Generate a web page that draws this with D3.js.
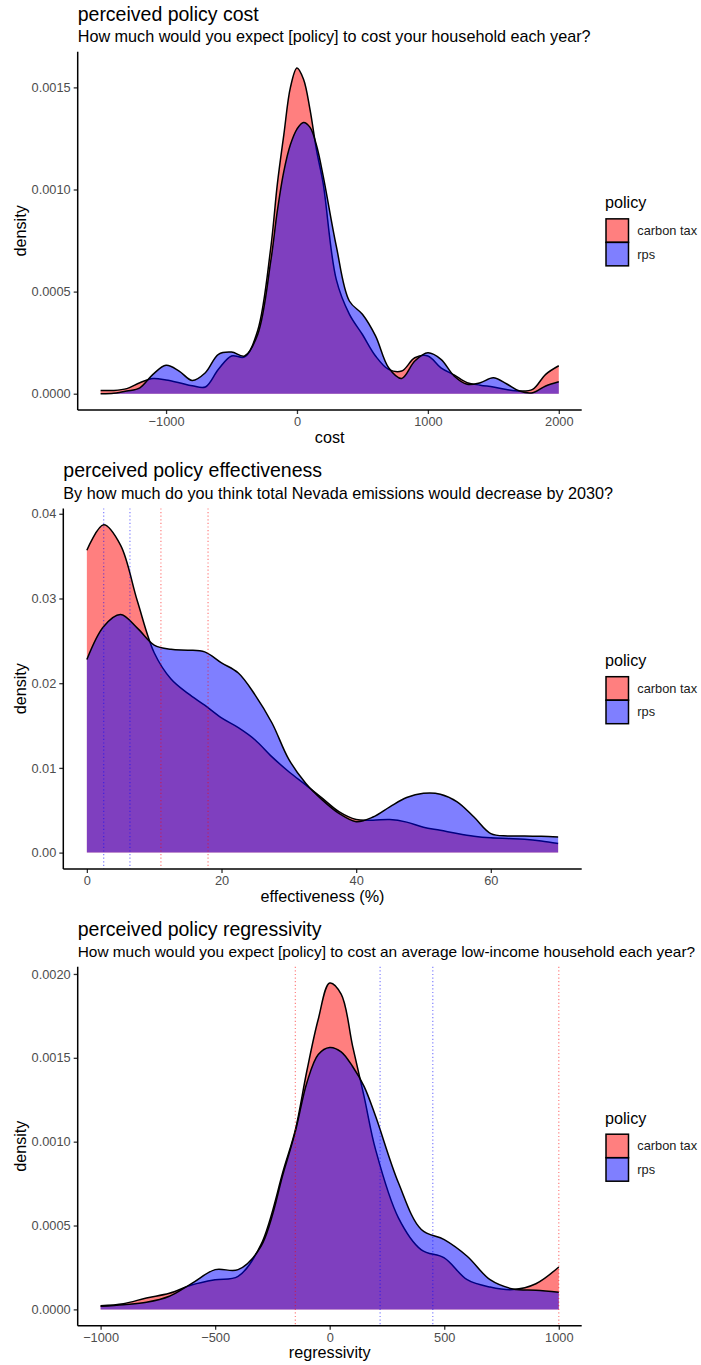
<!DOCTYPE html>
<html><head><meta charset="utf-8">
<script src="https://cdn.jsdelivr.net/npm/d3@7"></script>
<style>body{margin:0;background:#fff} svg{display:block}</style>
</head><body>
<svg id="chart" width="701" height="1365"></svg>
<script>
// ---------- DATA ----------
const policies = ["carbon tax", "rps"];
const policyColors = ["red", "blue"];

// Panel 1: perceived policy cost
const costX = [-1500,-1400,-1300,-1200,-1100,-1000,-900,-800,-700,-600,-500,-400,-300,-200,-150,-100,-50,0,50,100,150,200,300,400,500,600,700,800,900,1000,1100,1200,1300,1400,1500,1600,1700,1800,1900,2000];
const costCarbonTax = [0.000016,0.000016,0.000025,0.000054,0.000074,0.000067,0.000054,0.000039,0.000033,0.000120,0.000185,0.000180,0.000310,0.000716,0.001026,0.001270,0.001500,0.001595,0.001540,0.001390,0.001190,0.001030,0.000560,0.000390,0.000290,0.000185,0.000119,0.000111,0.000176,0.000185,0.000127,0.000092,0.000054,0.000042,0.000033,0.000021,0.000013,0.000021,0.000095,0.000137];
const costRps = [0.000000,0.000002,0.000013,0.000029,0.000095,0.000139,0.000111,0.000065,0.000103,0.000193,0.000204,0.000185,0.000290,0.000650,0.000895,0.001090,0.001220,0.001296,0.001328,0.001304,0.001214,0.001067,0.000724,0.000454,0.000389,0.000283,0.000127,0.000075,0.000160,0.000200,0.000168,0.000087,0.000046,0.000054,0.000078,0.000049,0.000013,0.000005,0.000038,0.000059];
const costXTicks = [-1000, 0, 1000, 2000];
const costYTicks = [0, 0.0005, 0.0010, 0.0015];

// Panel 2: perceived policy effectiveness
const effX = [0,2.5,5,7.5,10,12.5,15,17.5,20,22.5,25,27.5,30,32.5,35,37.5,40,42.5,45,47.5,50,52.5,55,57.5,60,62.5,65,67.5,70];
const effCarbonTax = [0.0357,0.0387,0.0363,0.0297,0.0236,0.0205,0.0188,0.0174,0.0159,0.01475,0.0133,0.0113,0.00955,0.0080,0.0064,0.0048,0.0039,0.00383,0.0039,0.0036,0.0030,0.00264,0.00225,0.00193,0.00174,0.00166,0.00158,0.00138,0.00107];
const effRps = [0.0228,0.0267,0.0281,0.0265,0.0245,0.0240,0.0239,0.0237,0.0224,0.0212,0.0186,0.0153,0.0110,0.0082,0.0062,0.0046,0.00365,0.0042,0.0054,0.0065,0.0070,0.0069,0.0060,0.0042,0.00225,0.00197,0.00197,0.00193,0.00185];
const effXTicks = [0, 20, 40, 60];
const effYTicks = [0, 0.01, 0.02, 0.03, 0.04];
const effVlineCarbonTax = [11, 18];
const effVlineRps = [2.5, 6.4];

// Panel 3: perceived policy regressivity
const regX = [-1000,-900,-800,-700,-600,-500,-400,-300,-200,-150,-100,-50,0,50,100,150,200,300,400,500,600,700,800,900,1000];
const regCarbonTax = [0.000022,0.000034,0.000068,0.000096,0.000147,0.000177,0.000197,0.000386,0.000840,0.001070,0.001420,0.001730,0.001946,0.001880,0.001570,0.001270,0.000954,0.000546,0.000355,0.000307,0.000177,0.000133,0.000118,0.000153,0.000253];
const regRps = [0.000018,0.000028,0.000042,0.000078,0.000157,0.000237,0.000237,0.000376,0.000825,0.001060,0.001350,0.001520,0.001562,0.001536,0.001448,0.001330,0.001153,0.000755,0.000476,0.000416,0.000317,0.000177,0.000122,0.000114,0.000102];
const regXTicks = [-1000, -500, 0, 500, 1000];
const regYTicks = [0, 0.0005, 0.0010, 0.0015, 0.0020];
const regVlineCarbonTax = [-150, 1000];
const regVlineRps = [220, 450];

// ---------- LAYOUT ----------
const FONT = "'Liberation Sans', Arial, sans-serif";
const panels = [
  {title:"perceived policy cost", subtitle:"How much would you expect [policy] to cost your household each year?",
   xlab:"cost", x:costX, series:[costCarbonTax, costRps], xticks:costXTicks, yticks:costYTicks, yfmt:".4f",
   vlines:null, left:77.7, top:51.7, bottom:410},
  {title:"perceived policy effectiveness", subtitle:"By how much do you think total Nevada emissions would decrease by 2030?",
   xlab:"effectiveness (%)", x:effX, series:[effCarbonTax, effRps], xticks:effXTicks, yticks:effYTicks, yfmt:".2f",
   vlines:[effVlineCarbonTax, effVlineRps], left:63.3, top:508.4, bottom:869},
  {title:"perceived policy regressivity", subtitle:"How much would you expect [policy] to cost an average low-income household each year?",
   xlab:"regressivity", x:regX, series:[regCarbonTax, regRps], xticks:regXTicks, yticks:regYTicks, yfmt:".4f",
   vlines:[regVlineCarbonTax, regVlineRps], left:77.7, top:966.7, bottom:1325.7}
];
const RIGHT = 581.7;
const svg = d3.select("#chart");
const fmtMinus = s => s.replace("-", "\u2212");

panels.forEach(p => {
  const g = svg.append("g");
  const xExt = d3.extent(p.x);
  const xPad = (xExt[1]-xExt[0])*0.05;
  const x = d3.scaleLinear().domain([xExt[0]-xPad, xExt[1]+xPad]).range([p.left, RIGHT]);
  const yMax = d3.max(p.series, s => d3.max(s));
  const y = d3.scaleLinear().domain([-0.05*yMax, 1.05*yMax]).range([p.bottom, p.top]);

  // densities
  p.series.forEach((s, i) => {
    const pts = p.x.map((xv, j) => [xv, s[j]]);
    const area = d3.area().x(d => x(d[0])).y0(y(0)).y1(d => y(d[1])).curve(d3.curveCatmullRom.alpha(0.5));
    const line = d3.line().x(d => x(d[0])).y(d => y(d[1])).curve(d3.curveCatmullRom.alpha(0.5));
    g.append("path").attr("d", area(pts)).attr("fill", policyColors[i]).attr("fill-opacity", 0.5);
    g.append("path").attr("d", line(pts)).attr("fill", "none").attr("stroke", "#000").attr("stroke-width", 1.5);
  });

  // vlines
  if (p.vlines) {
    p.vlines.forEach((vals, i) => {
      vals.forEach(v => {
        g.append("line").attr("x1", x(v)).attr("x2", x(v)).attr("y1", p.top).attr("y2", p.bottom)
          .attr("stroke", policyColors[i]).attr("stroke-opacity", 0.5)
          .attr("stroke-width", 1.2).attr("stroke-dasharray", "1.2 2.4");
      });
    });
  }

  // axes
  const xAxis = d3.axisBottom(x).tickValues(p.xticks).tickSize(4).tickPadding(3)
    .tickFormat(d => fmtMinus(d3.format("d")(d)));
  const xa = g.append("g").attr("transform", `translate(0,${p.bottom})`).call(xAxis);
  const yAxis = d3.axisLeft(y).tickValues(p.yticks).tickSize(4).tickPadding(3)
    .tickFormat(d3.format(p.yfmt));
  const ya = g.append("g").attr("transform", `translate(${p.left},0)`).call(yAxis);
  [xa, ya].forEach(a => {
    a.select(".domain").remove();
    a.selectAll(".tick line").attr("stroke", "#333").attr("stroke-width", 1.3);
    a.selectAll(".tick text").attr("fill", "#4d4d4d").style("font-family", FONT).style("font-size", "12.8px");
  });
  g.append("line").attr("x1", p.left).attr("x2", RIGHT).attr("y1", p.bottom).attr("y2", p.bottom)
    .attr("stroke", "#000").attr("stroke-width", 1.5);
  g.append("line").attr("x1", p.left).attr("x2", p.left).attr("y1", p.top).attr("y2", p.bottom)
    .attr("stroke", "#000").attr("stroke-width", 1.5);

  // titles
  g.append("text").attr("x", p.left).attr("y", p.top - 31).text(p.title)
    .style("font-family", FONT).style("font-size", "19.5px").attr("fill", "#000");
  const sub = g.append("text").attr("x", p.left).attr("y", p.top - 9.5).text(p.subtitle)
    .style("font-family", FONT).style("font-size", "16.2px").attr("fill", "#000");
  const subLen = sub.node().getComputedTextLength();
  const maxLen = 695 - p.left;
  if (subLen > maxLen) sub.style("font-size", (16.2 * maxLen / subLen).toFixed(2) + "px");

  // axis titles
  g.append("text").attr("x", (p.left + RIGHT)/2).attr("y", p.bottom + 32.5).attr("text-anchor", "middle")
    .text(p.xlab).style("font-family", FONT).style("font-size", "16.2px").attr("fill", "#000");
  const cy = (p.top + p.bottom)/2;
  g.append("text").attr("transform", `translate(25.5,${cy}) rotate(-90)`).attr("text-anchor", "middle")
    .text("density").style("font-family", FONT).style("font-size", "16.2px").attr("fill", "#000");

  // legend
  const lg = g.append("g");
  lg.append("text").attr("x", 605).attr("y", cy - 22.5).text("policy")
    .style("font-family", FONT).style("font-size", "16.2px").attr("fill", "#000");
  const key = 23.5;
  policies.forEach((name, i) => {
    const ky = cy - 12 + i*key;
    lg.append("rect").attr("x", 606).attr("y", ky).attr("width", key - 1).attr("height", key)
      .attr("fill", policyColors[i]).attr("fill-opacity", 0.5)
      .attr("stroke", "#000").attr("stroke-width", 1.5);
    lg.append("text").attr("x", 637.3).attr("y", ky + key/2).attr("dy", "0.35em").text(name)
      .style("font-family", FONT).style("font-size", "12.8px").attr("fill", "#1a1a1a");
  });
});
</script>
</body></html>
